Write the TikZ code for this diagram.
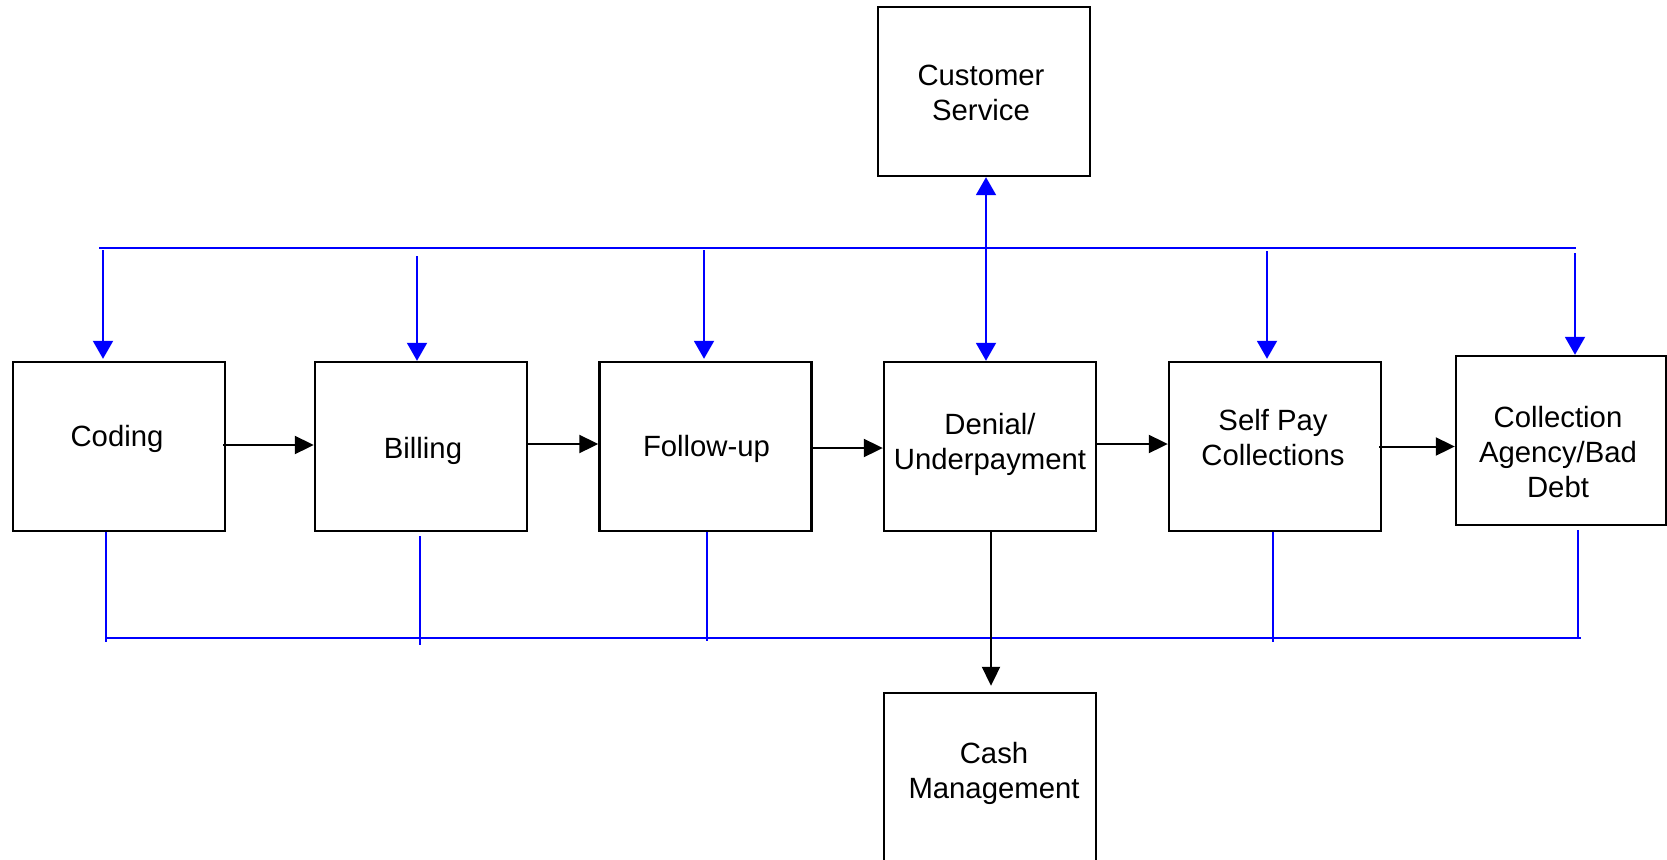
\documentclass[tikz,border=0pt]{standalone}
\usepackage{fontspec}
\setmainfont{Liberation Sans}
\usetikzlibrary{arrows.meta}
\definecolor{busblue}{RGB}{0,0,255}
\tikzset{
  box/.style={draw=black, line width=2.4pt, minimum width=212pt, minimum height=169pt, inner sep=0pt},
  txt/.style={align=center, inner sep=0pt, font=\fontsize{29.3}{35}\selectfont},
  flow/.style={draw=black, line width=2pt, -{Triangle[length=19pt,width=18pt]}},
  feed/.style={draw=busblue, line width=2pt, -{Triangle[length=18pt,width=20pt]}},
  feedtwo/.style={draw=busblue, line width=2pt, {Triangle[length=18pt,width=20pt]}-{Triangle[length=18pt,width=20pt]}},
  bus/.style={draw=busblue, line width=2pt}
}
\begin{document}
\begin{tikzpicture}[x=1pt,y=-1pt]
\useasboundingbox (0,0) rectangle (1667,859);
% boxes
\node[box] (cs) at (984,91.5) {};
\node[box] (coding) at (119,446.5) {};
\node[box] (billing) at (421,446.5) {};
\node[box] (follow) at (705.5,446.5) {};
\node[box] (denial) at (990,446.5) {};
\node[box] (selfpay) at (1275,446.5) {};
\node[box, minimum width=210pt] (ca) at (1561,440.5) {};
\node[box] (cash) at (990,777.5) {};
% texts
\node[txt] (cst) at ([yshift=-1pt,xshift=-3pt]cs.center) {Customer\\Service};
\node[txt] (codingt) at ([yshift=7.4pt,xshift=-2pt]coding.center) {Coding};
\node[txt] (billingt) at ([yshift=-4.3pt,xshift=2pt]billing.center) {Billing};
\node[txt] (followt) at ([yshift=-2pt,xshift=1pt]follow.center) {Follow-up};
\node[txt] (denialt) at ([yshift=2pt]denial.center) {Denial/\\Underpayment};
\node[txt] (selfpayt) at ([yshift=8.5pt,xshift=-2pt]selfpay.center) {Self Pay\\Collections};
\node[txt] (cat) at ([yshift=-11.7pt,xshift=-3pt]ca.center) {Collection\\Agency/Bad\\Debt};
\node[txt] (casht) at ([yshift=4pt,xshift=4pt]cash.center) {Cash\\Management};
% top bus
\coordinate (tl) at (99,248);
\coordinate (tr) at (1576,248);
\draw[bus] (tl) -- (tr);
\coordinate (t1) at (103,250);
\coordinate (t2) at (417,256);
\coordinate (t3) at (704,250);
\coordinate (t5) at (1267,251);
\coordinate (t6) at (1575,253);
\draw[feed, shorten >=2pt] (t1) -- (t1 |- coding.north);
\draw[feed] (t2) -- (t2 |- billing.north);
\draw[feed, shorten >=2pt] (t3) -- (t3 |- follow.north);
\draw[feed, shorten >=2pt] (t5) -- (t5 |- selfpay.north);
\draw[feed] (t6) -- (t6 |- ca.north);
\coordinate (dx) at (986,300);
\draw[feedtwo] (dx |- cs.south) -- (dx |- denial.north);
% bottom bus
\coordinate (bl) at (107,638);
\coordinate (br) at (1581,638);
\draw[bus] (bl) -- (br);
\coordinate (b1) at (106,642);
\coordinate (b2) at (420,645);
\coordinate (b3) at (707,641);
\coordinate (b5) at (1273,642);
\coordinate (b6) at (1578,638);
\draw[bus] (b1 |- coding.south) -- (b1);
\draw[bus] ([yshift=-4pt]b2 |- billing.south) -- (b2);
\draw[bus] (b3 |- follow.south) -- (b3);
\draw[bus] (b5 |- selfpay.south) -- (b5);
\draw[bus] ([yshift=-4pt]b6 |- ca.south) -- (b6);
% main flow
\draw[flow] ([xshift=-3pt,yshift=1.5pt]coding.east) -- ([yshift=1.5pt]billing.west);
\draw[flow] ([yshift=2.5pt]billing.east) -- ([yshift=2.5pt]follow.west);
\draw[flow] ([yshift=-1.5pt]follow.east) -- ([yshift=-1.5pt]denial.west);
\draw[flow] ([yshift=2.5pt]denial.east) -- ([yshift=2.5pt]selfpay.west);
\draw[flow] ([xshift=-3pt]selfpay.east) -- (selfpay.east -| ca.west);
\draw[flow, shorten >=6pt] ([xshift=1pt]denial.south) -- ([xshift=1pt]cash.north);
\end{tikzpicture}
\end{document}
